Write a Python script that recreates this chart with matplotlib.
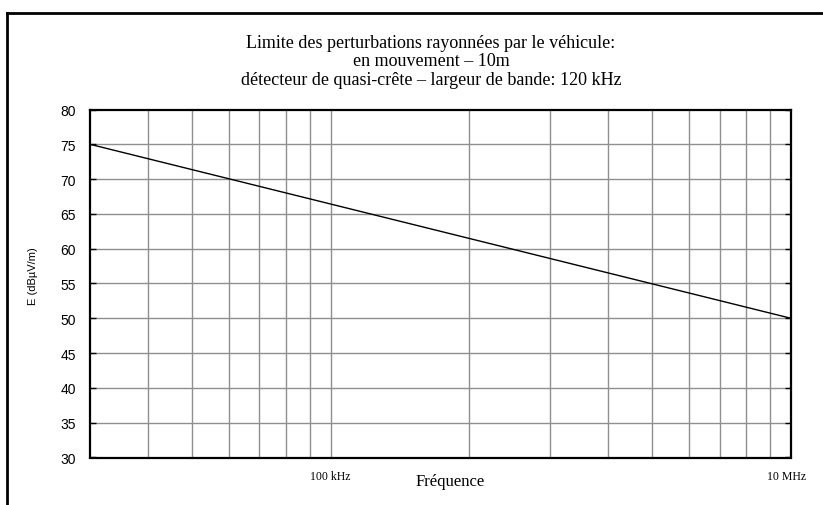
import matplotlib
matplotlib.use("Agg")
import matplotlib.pyplot as plt
from matplotlib.lines import Line2D
from matplotlib.ticker import FixedLocator, NullFormatter
from matplotlib.transforms import ScaledTranslation

# Data
freq = [30, 1000]
level = [75, 50]
y_ticks = [30, 35, 40, 45, 50, 55, 60, 65, 70, 75, 80]
x_grid = [40, 50, 60, 70, 80, 90, 100, 200, 300, 400, 500, 600, 700, 800, 900]
x_tick_pos = [100, 1000]
x_tick_labels = ["100 kHz", "10 MHz"]
title_lines = ["Limite des perturbations rayonnées par le véhicule:",
               "en mouvement – 10m",
               "détecteur de quasi-crête – largeur de bande: 120 kHz"]

W, H = 823, 506
fig = plt.figure(figsize=(W / 100, H / 100), dpi=100)
ax = fig.add_axes([90 / W, 1 - 458.5 / H, 701 / W, 348 / H])

ax.set_xscale("log")
ax.set_xlim(30, 1000)
ax.set_ylim(30, 80)

ax.plot(freq, level, color="black", lw=1.0, zorder=3)

for x in x_grid:
    ax.axvline(x, color="#8f8f8f", lw=1.0, zorder=1)
for y in y_ticks[1:-1]:
    ax.axhline(y, color="#8f8f8f", lw=1.0, zorder=1)

ax.yaxis.set_major_locator(FixedLocator(y_ticks))
ax.set_yticklabels([str(v) for v in y_ticks], family="Liberation Sans", fontsize=10)
ax.tick_params(axis="y", direction="in", length=4, width=1, right=True, left=True, pad=10)

ax.xaxis.set_major_locator(FixedLocator(x_tick_pos))
ax.xaxis.set_minor_formatter(NullFormatter())
ax.xaxis.set_minor_locator(FixedLocator([]))
ax.set_xticklabels(x_tick_labels, family="Liberation Serif", fontsize=8.5)
ax.tick_params(axis="x", length=0, pad=9)
lbl = ax.get_xticklabels()[1]
lbl.set_transform(lbl.get_transform() + ScaledTranslation(-4 / 100, 0, fig.dpi_scale_trans))

for s in ax.spines.values():
    s.set_linewidth(1.6)
    s.set_color("black")

ax.set_xlabel("Fréquence", family="Liberation Serif", fontsize=12)
ax.xaxis.set_label_coords((450 - 90) / 701, -(482 - 458.5) / 348)
ax.xaxis.label.set_va("center")
ax.set_ylabel("E (dBµV/m)", family="Liberation Sans", fontsize=8)
ax.yaxis.set_label_coords((33 - 90) / 701, (458.5 - 276) / 348)
ax.yaxis.label.set_va("center")

for i, t in enumerate(title_lines):
    fig.text(431 / W, 1 - (43 + i * 18.7) / H, t, ha="center", va="center",
             family="Liberation Serif", fontsize=13)

# outer frame
fig.add_artist(Line2D([7 / W, 7 / W], [0, 1 - 14 / H], transform=fig.transFigure, color="black", lw=2))
fig.add_artist(Line2D([7 / W, 1], [1 - 14 / H, 1 - 14 / H], transform=fig.transFigure, color="black", lw=2))

fig.savefig("out.png", dpi=100)
